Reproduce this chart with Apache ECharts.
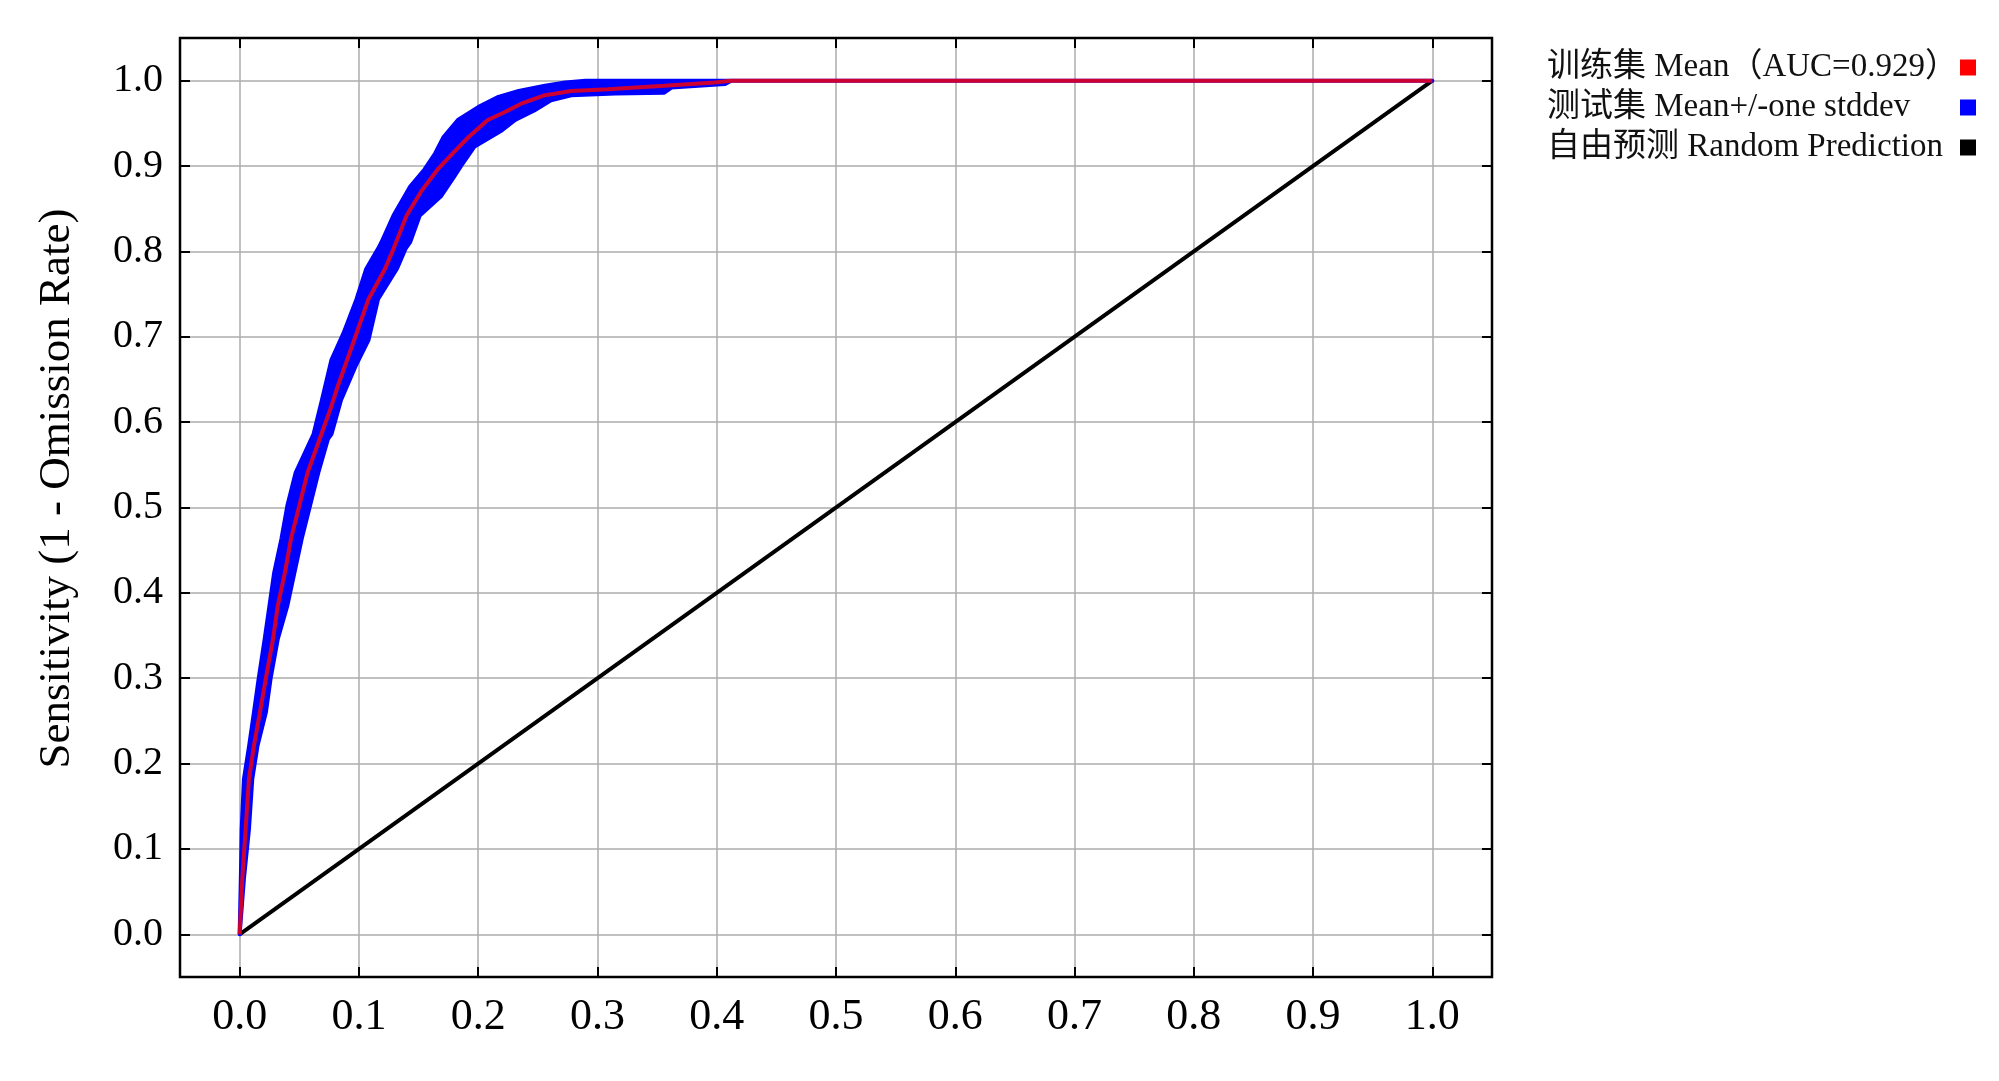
<!DOCTYPE html>
<html>
<head>
<meta charset="utf-8">
<script src="https://cdn.jsdelivr.net/npm/echarts@6/dist/echarts.min.js"></script>
<style>
  html, body { margin: 0; padding: 0; background: #fff; }
  #chart { width: 1999px; height: 1081px; }
</style>
</head>
<body>
<div id="chart"></div>
<script>
const tickValues = [0, 0.1, 0.2, 0.3, 0.4, 0.5, 0.6, 0.7, 0.8, 0.9, 1.0];

const seriesNames = [
  "训练集 Mean（AUC=0.929）",
  "测试集 Mean+/-one stddev",
  "自由预测 Random Prediction"
];

// mean ROC curve [1 - specificity, sensitivity]
const meanRoc = [
  [0, 0], [0.0022, 0.065], [0.005, 0.123], [0.0078, 0.182], [0.012, 0.221],
  [0.017, 0.26], [0.022, 0.30], [0.028, 0.346], [0.032, 0.385], [0.038, 0.424],
  [0.043, 0.463], [0.050, 0.502], [0.057, 0.541], [0.067, 0.580], [0.076, 0.615],
  [0.083, 0.645], [0.097, 0.700], [0.108, 0.744], [0.122, 0.780], [0.129, 0.803],
  [0.140, 0.842], [0.152, 0.870], [0.166, 0.896], [0.180, 0.917], [0.192, 0.934],
  [0.208, 0.954], [0.222, 0.963], [0.236, 0.973], [0.256, 0.983], [0.278, 0.988],
  [0.309, 0.990], [0.356, 0.994], [0.398, 0.998], [0.412, 1.0], [1.0, 1.0]
];

// upper edge of the +/- one stddev band
const bandUpper = [
  [0, 0], [0.001, 0.065], [0.0017, 0.123], [0.0036, 0.182], [0.008, 0.221],
  [0.012, 0.26], [0.016, 0.30], [0.021, 0.346], [0.025, 0.385], [0.029, 0.424],
  [0.035, 0.463], [0.040, 0.502], [0.047, 0.541], [0.055, 0.565], [0.062, 0.586],
  [0.069, 0.626], [0.077, 0.673], [0.087, 0.704], [0.098, 0.744], [0.106, 0.779],
  [0.116, 0.803], [0.119, 0.811], [0.129, 0.842], [0.143, 0.876], [0.155, 0.896],
  [0.164, 0.915], [0.171, 0.934], [0.183, 0.954], [0.200, 0.969], [0.217, 0.981],
  [0.234, 0.988], [0.256, 0.994], [0.273, 0.998], [0.290, 1.0], [1.0, 1.0]
];

// lower edge of the band
const bandLower = [
  [0, 0], [0.0036, 0.065], [0.0078, 0.123], [0.0106, 0.182], [0.015, 0.221],
  [0.022, 0.26], [0.026, 0.30], [0.032, 0.346], [0.040, 0.385], [0.046, 0.424],
  [0.052, 0.463], [0.059, 0.502], [0.066, 0.541], [0.074, 0.580], [0.077, 0.586],
  [0.085, 0.626], [0.097, 0.665], [0.108, 0.696], [0.116, 0.744], [0.132, 0.780],
  [0.139, 0.803], [0.143, 0.811], [0.151, 0.842], [0.169, 0.865], [0.180, 0.888],
  [0.187, 0.903], [0.197, 0.923], [0.220, 0.942], [0.231, 0.954], [0.247, 0.965],
  [0.261, 0.977], [0.278, 0.983], [0.315, 0.985], [0.356, 0.986], [0.362, 0.992],
  [0.407, 0.996], [0.412, 1.0], [1.0, 1.0]
];

const randomLine = [[0, 0], [1, 1]];

const serif = "'Liberation Serif', 'Times New Roman', 'Noto Sans CJK SC', serif";

function sideAxis(position) {
  return {
    type: "value",
    position: position,
    min: -0.05,
    max: 1.05,
    axisLine: { show: false, onZero: false },
    axisTick: {
      show: true, inside: true, length: 10, customValues: tickValues,
      lineStyle: { color: "#000", width: 2 }
    },
    axisLabel: { show: false },
    splitLine: { show: false }
  };
}

function renderChart() {
  const el = document.getElementById("chart");
  const chart = echarts.init(el);

  chart.setOption({
    animation: false,
    backgroundColor: "#fff",
    grid: {
      left: 180, right: 507, top: 38, bottom: 104,
      show: true, borderColor: "#000", borderWidth: 2.5
    },
    legend: {
      orient: "vertical",
      left: 1542,
      top: 46,
      align: "right",
      itemWidth: 16,
      itemHeight: 16,
      itemGap: 7,
      icon: "rect",
      data: seriesNames,
      formatter: name => "{t|" + name + "}",
      textStyle: {
        rich: {
          t: { width: 408, align: "left", fontSize: 33, lineHeight: 35, color: "#111", fontFamily: serif }
        }
      }
    },
    xAxis: [{
      type: "value",
      min: -0.05,
      max: 1.05,
      axisLine: { onZero: false, show: false },
      axisTick: {
        inside: true, length: 10, customValues: tickValues,
        lineStyle: { color: "#000", width: 2 }
      },
      axisLabel: {
        customValues: tickValues,
        formatter: v => v.toFixed(1),
        fontSize: 44, margin: 18, color: "#000", fontFamily: serif
      },
      splitLine: { show: true, lineStyle: { color: "#adadad", width: 1.5 } }
    }, sideAxis("top")],
    yAxis: [{
      type: "value",
      min: -0.05,
      max: 1.05,
      name: "Sensitivity (1 - Omission Rate)",
      nameLocation: "middle",
      nameGap: 100,
      nameTextStyle: { fontSize: 45, color: "#000", fontFamily: serif, padding: [0, 0, 0, 38] },
      axisLine: { onZero: false, show: false },
      axisTick: {
        inside: true, length: 10, customValues: tickValues,
        lineStyle: { color: "#000", width: 2 }
      },
      axisLabel: {
        customValues: tickValues,
        formatter: v => v.toFixed(1),
        fontSize: 40, margin: 17, color: "#000", fontFamily: serif
      },
      splitLine: { show: true, lineStyle: { color: "#adadad", width: 1.5 } }
    }, sideAxis("right")],
    series: [
      {
        name: seriesNames[2],
        type: "line",
        data: randomLine,
        showSymbol: false,
        itemStyle: { color: "#000" },
        lineStyle: { color: "#000", width: 4 },
        z: 2
      },
      {
        name: seriesNames[1],
        type: "custom",
        data: [0],
        itemStyle: { color: "#0000ff" },
        z: 3,
        renderItem: (params, api) => {
          const pts = bandUpper.map(p => api.coord(p))
            .concat(bandLower.slice().reverse().map(p => api.coord(p)));
          return {
            type: "polygon",
            shape: { points: pts },
            style: { fill: "#0000ff", stroke: "#0000ff", lineWidth: 4, lineJoin: "round" }
          };
        }
      },
      {
        name: seriesNames[0],
        type: "line",
        data: meanRoc,
        showSymbol: false,
        itemStyle: { color: "#ff0000" },
        lineStyle: { color: "#ff0000", width: 4, opacity: 0.8 },
        z: 4
      }
    ]
  });
}

renderChart();
</script>
</body>
</html>
